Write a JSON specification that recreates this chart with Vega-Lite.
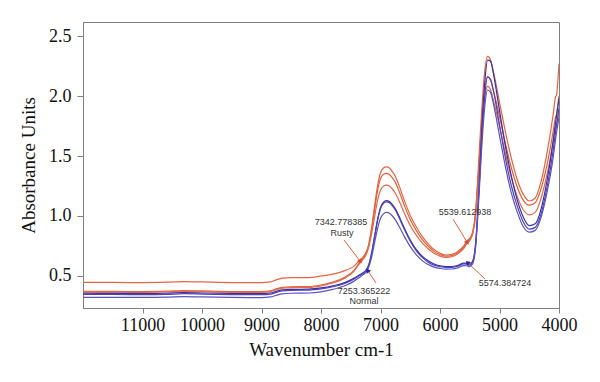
{
  "$schema": "https://vega.github.io/schema/vega-lite/v6.json",
  "width": 476,
  "height": 286,
  "autosize": {"type": "none"},
  "padding": {"left": 83, "top": 22, "right": 41, "bottom": 74},
  "background": "white",
  "config": {
    "view": {"stroke": "#808080", "strokeWidth": 1},
    "axis": {
      "labelFont": "Liberation Serif",
      "titleFont": "Liberation Serif",
      "labelFontSize": 18,
      "titleFontSize": 19,
      "titleFontWeight": "normal",
      "labelColor": "#111",
      "titleColor": "#111",
      "domainColor": "#808080",
      "tickColor": "#808080",
      "grid": false
    }
  },
  "datasets": {
    "spectra": [
      {"wn":12000,"R1":0.447,"R2":0.372,"R3":0.366,"B1":0.356,"B2":0.347,"B3":0.322},
      {"wn":11500,"R1":0.446,"R2":0.371,"R3":0.365,"B1":0.355,"B2":0.346,"B3":0.322},
      {"wn":11000,"R1":0.445,"R2":0.370,"R3":0.364,"B1":0.354,"B2":0.345,"B3":0.321},
      {"wn":10600,"R1":0.448,"R2":0.373,"R3":0.367,"B1":0.356,"B2":0.347,"B3":0.323},
      {"wn":10300,"R1":0.453,"R2":0.378,"R3":0.372,"B1":0.361,"B2":0.352,"B3":0.328},
      {"wn":10000,"R1":0.450,"R2":0.375,"R3":0.369,"B1":0.358,"B2":0.349,"B3":0.325},
      {"wn":9500,"R1":0.445,"R2":0.370,"R3":0.364,"B1":0.354,"B2":0.345,"B3":0.321},
      {"wn":9000,"R1":0.444,"R2":0.369,"R3":0.363,"B1":0.353,"B2":0.344,"B3":0.320},
      {"wn":8850,"R1":0.450,"R2":0.375,"R3":0.369,"B1":0.358,"B2":0.349,"B3":0.325},
      {"wn":8750,"R1":0.468,"R2":0.393,"R3":0.386,"B1":0.372,"B2":0.363,"B3":0.339},
      {"wn":8650,"R1":0.482,"R2":0.405,"R3":0.398,"B1":0.384,"B2":0.375,"B3":0.351},
      {"wn":8500,"R1":0.487,"R2":0.410,"R3":0.403,"B1":0.388,"B2":0.380,"B3":0.356},
      {"wn":8200,"R1":0.487,"R2":0.412,"R3":0.405,"B1":0.390,"B2":0.382,"B3":0.358},
      {"wn":8000,"R1":0.500,"R2":0.425,"R3":0.418,"B1":0.400,"B2":0.392,"B3":0.368},
      {"wn":7800,"R1":0.515,"R2":0.450,"R3":0.442,"B1":0.418,"B2":0.410,"B3":0.388},
      {"wn":7600,"R1":0.545,"R2":0.490,"R3":0.482,"B1":0.445,"B2":0.437,"B3":0.418},
      {"wn":7450,"R1":0.580,"R2":0.545,"R3":0.537,"B1":0.480,"B2":0.472,"B3":0.455},
      {"wn":7350,"R1":0.630,"R2":0.615,"R3":0.605,"B1":0.510,"B2":0.503,"B3":0.490},
      {"wn":7300,"R1":0.655,"R2":0.645,"R3":0.635,"B1":0.525,"B2":0.518,"B3":0.507},
      {"wn":7250,"R1":0.690,"R2":0.680,"R3":0.668,"B1":0.545,"B2":0.538,"B3":0.528},
      {"wn":7200,"R1":0.760,"R2":0.750,"R3":0.735,"B1":0.590,"B2":0.583,"B3":0.570},
      {"wn":7150,"R1":0.900,"R2":0.880,"R3":0.850,"B1":0.690,"B2":0.680,"B3":0.655},
      {"wn":7100,"R1":1.080,"R2":1.050,"R3":0.990,"B1":0.830,"B2":0.820,"B3":0.775},
      {"wn":7050,"R1":1.250,"R2":1.210,"R3":1.130,"B1":0.970,"B2":0.960,"B3":0.895},
      {"wn":7000,"R1":1.360,"R2":1.310,"R3":1.215,"B1":1.070,"B2":1.060,"B3":0.980},
      {"wn":6950,"R1":1.400,"R2":1.348,"R3":1.250,"B1":1.115,"B2":1.105,"B3":1.018},
      {"wn":6900,"R1":1.410,"R2":1.356,"R3":1.258,"B1":1.128,"B2":1.118,"B3":1.030},
      {"wn":6850,"R1":1.400,"R2":1.346,"R3":1.250,"B1":1.120,"B2":1.110,"B3":1.022},
      {"wn":6800,"R1":1.370,"R2":1.318,"R3":1.225,"B1":1.095,"B2":1.085,"B3":1.000},
      {"wn":6750,"R1":1.330,"R2":1.280,"R3":1.190,"B1":1.060,"B2":1.050,"B3":0.968},
      {"wn":6700,"R1":1.270,"R2":1.222,"R3":1.140,"B1":1.010,"B2":1.000,"B3":0.925},
      {"wn":6600,"R1":1.130,"R2":1.090,"R3":1.025,"B1":0.900,"B2":0.890,"B3":0.830},
      {"wn":6500,"R1":1.005,"R2":0.970,"R3":0.920,"B1":0.800,"B2":0.790,"B3":0.745},
      {"wn":6400,"R1":0.910,"R2":0.880,"R3":0.840,"B1":0.722,"B2":0.712,"B3":0.678},
      {"wn":6300,"R1":0.830,"R2":0.805,"R3":0.775,"B1":0.665,"B2":0.655,"B3":0.628},
      {"wn":6200,"R1":0.770,"R2":0.750,"R3":0.727,"B1":0.627,"B2":0.615,"B3":0.595},
      {"wn":6100,"R1":0.720,"R2":0.705,"R3":0.690,"B1":0.600,"B2":0.590,"B3":0.574},
      {"wn":6000,"R1":0.690,"R2":0.678,"R3":0.665,"B1":0.585,"B2":0.578,"B3":0.563},
      {"wn":5900,"R1":0.675,"R2":0.665,"R3":0.655,"B1":0.578,"B2":0.571,"B3":0.557},
      {"wn":5800,"R1":0.680,"R2":0.670,"R3":0.660,"B1":0.578,"B2":0.572,"B3":0.558},
      {"wn":5700,"R1":0.705,"R2":0.695,"R3":0.685,"B1":0.588,"B2":0.582,"B3":0.568},
      {"wn":5600,"R1":0.750,"R2":0.740,"R3":0.730,"B1":0.607,"B2":0.600,"B3":0.587},
      {"wn":5550,"R1":0.790,"R2":0.780,"R3":0.768,"B1":0.605,"B2":0.598,"B3":0.585},
      {"wn":5500,"R1":0.815,"R2":0.805,"R3":0.795,"B1":0.597,"B2":0.590,"B3":0.577},
      {"wn":5450,"R1":0.870,"R2":0.860,"R3":0.850,"B1":0.625,"B2":0.617,"B3":0.602},
      {"wn":5400,"R1":1.050,"R2":1.030,"R3":1.010,"B1":0.780,"B2":0.765,"B3":0.745},
      {"wn":5350,"R1":1.450,"R2":1.400,"R3":1.360,"B1":1.200,"B2":1.160,"B3":1.120},
      {"wn":5300,"R1":1.870,"R2":1.780,"R3":1.720,"B1":1.700,"B2":1.620,"B3":1.560},
      {"wn":5250,"R1":2.200,"R2":2.060,"R3":1.980,"B1":2.100,"B2":1.990,"B3":1.900},
      {"wn":5200,"R1":2.330,"R2":2.160,"R3":2.080,"B1":2.300,"B2":2.160,"B3":2.050},
      {"wn":5150,"R1":2.300,"R2":2.130,"R3":2.050,"B1":2.290,"B2":2.140,"B3":2.030},
      {"wn":5100,"R1":2.200,"R2":2.040,"R3":1.960,"B1":2.180,"B2":2.040,"B3":1.930},
      {"wn":5000,"R1":1.950,"R2":1.830,"R3":1.750,"B1":1.880,"B2":1.760,"B3":1.670},
      {"wn":4900,"R1":1.700,"R2":1.600,"R3":1.520,"B1":1.580,"B2":1.480,"B3":1.410},
      {"wn":4800,"R1":1.480,"R2":1.400,"R3":1.320,"B1":1.330,"B2":1.250,"B3":1.190},
      {"wn":4700,"R1":1.300,"R2":1.240,"R3":1.160,"B1":1.130,"B2":1.080,"B3":1.030},
      {"wn":4600,"R1":1.180,"R2":1.130,"R3":1.050,"B1":0.990,"B2":0.950,"B3":0.910},
      {"wn":4500,"R1":1.125,"R2":1.090,"R3":1.010,"B1":0.920,"B2":0.890,"B3":0.865},
      {"wn":4400,"R1":1.150,"R2":1.110,"R3":1.030,"B1":0.935,"B2":0.905,"B3":0.880},
      {"wn":4300,"R1":1.290,"R2":1.230,"R3":1.150,"B1":1.060,"B2":1.020,"B3":0.990},
      {"wn":4200,"R1":1.530,"R2":1.430,"R3":1.350,"B1":1.300,"B2":1.240,"B3":1.200},
      {"wn":4100,"R1":1.840,"R2":1.700,"R3":1.610,"B1":1.620,"B2":1.540,"B3":1.480},
      {"wn":4060,"R1":1.990,"R2":1.820,"R3":1.730,"B1":1.770,"B2":1.690,"B3":1.630},
      {"wn":4040,"R1":2.010,"R2":1.850,"R3":1.760,"B1":1.840,"B2":1.760,"B3":1.700},
      {"wn":4020,"R1":2.120,"R2":1.920,"R3":1.810,"B1":1.910,"B2":1.830,"B3":1.760},
      {"wn":4000,"R1":2.270,"R2":2.000,"R3":1.870,"B1":1.980,"B2":1.900,"B3":1.820}
    ],
    "labels": [
      {"wn": 7664, "v": 0.95, "text": "7342.778385"},
      {"wn": 7647, "v": 0.858, "text": "Rusty"},
      {"wn": 5580, "v": 1.033, "text": "5539.612938"},
      {"wn": 7277, "v": 0.375, "text": "7253.365222"},
      {"wn": 7277, "v": 0.292, "text": "Normal"},
      {"wn": 4908, "v": 0.442, "text": "5574.384724"}
    ],
    "arrows": [
      {"id": "a1", "group": "Rusty", "wn": 7613, "v": 0.80, "wn2": 7345, "v2": 0.625},
      {"id": "a2", "group": "Rusty", "wn": 5782, "v": 0.975, "wn2": 5546, "v2": 0.783},
      {"id": "a3", "group": "Normal", "wn": 7076, "v": 0.442, "wn2": 7210, "v2": 0.542},
      {"id": "a4", "group": "Normal", "wn": 5244, "v": 0.475, "wn2": 5529, "v2": 0.608}
    ]
  },
  "layer": [
    {
      "data": {"name": "spectra"},
      "transform": [{"fold": ["R1", "R2", "R3", "B1", "B2", "B3"], "as": ["series", "absorbance"]}],
      "mark": {"type": "line", "strokeWidth": 1.2, "interpolate": "monotone", "clip": true},
      "encoding": {
        "x": {
          "field": "wn", "type": "quantitative",
          "scale": {"domain": [4000, 12000], "reverse": true, "nice": false, "zero": false},
          "axis": {"values": [11000, 10000, 9000, 8000, 7000, 6000, 5000, 4000], "format": "d", "title": "Wavenumber cm-1", "tickSize": 5, "labelPadding": 3, "titlePadding": 6, "labelFlush": false}
        },
        "y": {
          "field": "absorbance", "type": "quantitative",
          "scale": {"domain": [0.233, 2.617], "nice": false, "zero": false},
          "axis": {"values": [0.5, 1.0, 1.5, 2.0, 2.5], "format": ".1f", "title": "Absorbance Units", "tickSize": 6, "labelPadding": 6, "titlePadding": 10}
        },
        "color": {
          "field": "series", "type": "nominal", "legend": null,
          "scale": {"domain": ["R1", "R2", "R3", "B1", "B2", "B3"], "range": ["#e8643e", "#e0603c", "#e46a48", "#3a2ea6", "#4d42b6", "#5b52c2"]}
        },
        "detail": {"field": "series"}
      }
    },
    {
      "data": {"name": "arrows"},
      "mark": {"type": "rule", "strokeWidth": 1},
      "encoding": {
        "x": {"field": "wn", "type": "quantitative"},
        "y": {"field": "v", "type": "quantitative"},
        "x2": {"field": "wn2"},
        "y2": {"field": "v2"},
        "color": {"field": "group", "type": "nominal", "legend": null, "scale": {"domain": ["Rusty", "Normal"], "range": ["#d9462a", "#2a1e98"]}}
      }
    },
    {
      "data": {"name": "arrows"},
      "transform": [{"filter": "datum.id === 'a1'"}],
      "mark": {"type": "point", "shape": "triangle", "filled": true, "size": 28, "angle": 143, "color": "#d9462a", "opacity": 1},
      "encoding": {"x": {"field": "wn2", "type": "quantitative"}, "y": {"field": "v2", "type": "quantitative"}}
    },
    {
      "data": {"name": "arrows"},
      "transform": [{"filter": "datum.id === 'a2'"}],
      "mark": {"type": "point", "shape": "triangle", "filled": true, "size": 28, "angle": 149, "color": "#d9462a", "opacity": 1},
      "encoding": {"x": {"field": "wn2", "type": "quantitative"}, "y": {"field": "v2", "type": "quantitative"}}
    },
    {
      "data": {"name": "arrows"},
      "transform": [{"filter": "datum.id === 'a3'"}],
      "mark": {"type": "point", "shape": "triangle", "filled": true, "size": 28, "angle": 326, "color": "#2a1e98", "opacity": 1},
      "encoding": {"x": {"field": "wn2", "type": "quantitative"}, "y": {"field": "v2", "type": "quantitative"}}
    },
    {
      "data": {"name": "arrows"},
      "transform": [{"filter": "datum.id === 'a4'"}],
      "mark": {"type": "point", "shape": "triangle", "filled": true, "size": 28, "angle": 313, "color": "#2a1e98", "opacity": 1},
      "encoding": {"x": {"field": "wn2", "type": "quantitative"}, "y": {"field": "v2", "type": "quantitative"}}
    },
    {
      "data": {"name": "labels"},
      "mark": {"type": "text", "font": "Liberation Sans", "fontSize": 9, "color": "#333333", "align": "center", "baseline": "middle"},
      "encoding": {
        "x": {"field": "wn", "type": "quantitative"},
        "y": {"field": "v", "type": "quantitative"},
        "text": {"field": "text", "type": "nominal"}
      }
    }
  ]
}
